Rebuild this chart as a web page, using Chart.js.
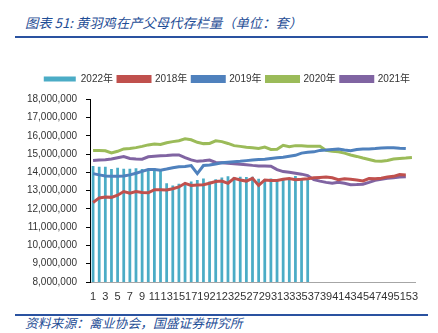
<!DOCTYPE html>
<html>
<head>
<meta charset="utf-8">
<script src="https://cdn.jsdelivr.net/npm/chart.js@4.4.1/dist/chart.umd.min.js"></script>
<style>
  html, body { margin: 0; padding: 0; background: #ffffff; }
  #wrap { position: relative; width: 438px; height: 333px; overflow: hidden; background: #fff; }
  #title { position: absolute; left: 25px; top: 13px; font-family: "Noto Sans CJK SC", sans-serif; font-style: italic; font-size: 13.3px; color: #1F4E96; white-space: nowrap; }
  #rule1 { position: absolute; left: 15px; top: 36px; width: 413px; height: 2px; background: #2A52A0; }
  #rule2 { position: absolute; left: 15px; top: 314px; width: 413px; height: 2px; background: #2A52A0; }
  #source { position: absolute; left: 25px; top: 313px; font-family: "Noto Sans CJK SC", sans-serif; font-style: italic; font-size: 12.8px; color: #1F4E96; white-space: nowrap; }
  #cv { position: absolute; left: 0; top: 53px; }
</style>
</head>
<body>
<div id="wrap">
  <div id="title">图表 51:  黄羽鸡在产父母代存栏量（单位：套）</div>
  <div id="rule1"></div>
  <canvas id="cv" width="438" height="257"></canvas>
  <div id="rule2"></div>
  <div id="source">资料来源：禽业协会，国盛证券研究所</div>
</div>
<script>
const weeks = ["1","2","3","4","5","6","7","8","9","10","11","12","13","14","15","16","17","18","19","20","21","22","23","24","25","26","27","28","29","30","31","32","33","34","35","36","37","38","39","40","41","42","43","44","45","46","47","48","49","50","51","52","53"];

const y2022 = [14340000,14300000,14300000,14180000,14250000,14200000,14200000,14220000,14180000,14150000,14220000,14080000,13400000,13280000,13380000,13400000,13500000,13580000,13660000,13500000,13620000,13720000,13780000,13740000,13760000,13740000,13760000,13650000,13630000,13660000,13580000,13620000,13660000,13800000,13660000,13640000];

const y2018 = [12350000,12600000,12650000,12630000,12750000,12950000,12860000,12950000,12900000,12880000,13050000,13050000,13030000,13100000,13200000,13400000,13280000,13310000,13320000,13400000,13500000,13520000,13400000,13670000,13580000,13520000,13670000,13280000,13580000,13550000,13550000,13620000,13660000,13600000,13620000,13650000,13700000,13720000,13740000,13700000,13600000,13650000,13620000,13580000,13530000,13660000,13650000,13680000,13750000,13780000,13880000,13860000];

const y2019 = [13930000,13860000,13800000,13780000,13780000,13800000,13860000,13950000,14050000,14150000,14150000,14120000,14180000,14250000,14300000,14320000,14370000,13930000,14370000,14400000,14460000,14520000,14550000,14580000,14600000,14640000,14680000,14700000,14720000,14760000,14800000,14830000,14880000,14930000,15050000,15100000,15120000,15200000,15220000,15250000,15270000,15220000,15180000,15250000,15280000,15280000,15300000,15330000,15350000,15350000,15320000,15300000];

const y2020 = [15190000,15200000,15180000,15060000,15150000,15280000,15300000,15350000,15420000,15500000,15550000,15520000,15620000,15680000,15730000,15830000,15780000,15640000,15570000,15580000,15720000,15680000,15580000,15460000,15420000,15370000,15350000,15300000,15380000,15250000,15260000,15480000,15400000,15460000,15450000,15430000,15430000,15430000,15200000,15150000,15120000,15050000,14950000,14870000,14780000,14700000,14620000,14600000,14650000,14730000,14760000,14780000,14810000];

const y2021 = [14650000,14670000,14690000,14730000,14800000,14860000,14760000,14730000,14720000,14850000,14880000,14900000,14920000,14950000,14950000,14800000,14680000,14600000,14630000,14670000,14540000,14520000,14500000,14470000,14440000,14420000,14380000,14350000,14350000,14330000,14150000,14040000,14000000,13950000,13900000,13820000,13600000,13520000,13450000,13400000,13460000,13400000,13320000,13330000,13350000,13450000,13560000,13620000,13670000,13700000,13740000,13760000];

const yTicks = [8000000,9000000,10000000,11000000,12000000,13000000,14000000,15000000,16000000,17000000,18000000];

function lineDs(label, data, color) {
  return { type: 'line', label: label, data: data, borderColor: color, backgroundColor: color,
           borderWidth: 3, pointRadius: 0, pointHoverRadius: 0, tension: 0, fill: false, order: 1 };
}

new Chart(document.getElementById('cv'), {
  data: {
    labels: weeks,
    datasets: [
      { type: 'bar', label: '2022年', data: y2022, backgroundColor: '#4BACC6', borderWidth: 0,
        barPercentage: 0.45, categoryPercentage: 1.0, order: 5 },
      lineDs('2018年', y2018, '#C0504D'),
      lineDs('2019年', y2019, '#4F81BD'),
      lineDs('2020年', y2020, '#9BBB59'),
      lineDs('2021年', y2021, '#8064A2')
    ]
  },
  options: {
    responsive: false,
    animation: false,
    events: [],
    layout: { padding: { top: 16, right: 23, left: 0, bottom: 0 } },
    plugins: {
      tooltip: { enabled: false },
      subtitle: {
        display: true, text: ' ', position: 'top', weight: 500,
        font: { size: 1 }, padding: { top: 0, bottom: 4 }
      },
      legend: {
        display: true,
        position: 'top',
        align: 'end',
        labels: {
          boxWidth: 32, boxHeight: 5, padding: 5,
          color: '#333333',
          font: { family: '"Liberation Sans", "Noto Sans CJK SC", sans-serif', size: 10 },
          sort: (a, b) => a.datasetIndex - b.datasetIndex
        }
      }
    },
    scales: {
      x: {
        type: 'category',
        offset: true,
        grid: { display: true, drawOnChartArea: false, drawTicks: false, color: '#A6A6A6' },
        border: { display: true, color: '#A6A6A6', width: 1 },
        ticks: {
          autoSkip: false, maxRotation: 0, minRotation: 0, padding: 8,
          color: '#333333',
          font: { family: '"Liberation Sans", sans-serif', size: 11 },
          callback: function (val, idx) { return idx % 2 === 0 ? this.getLabelForValue(val) : ''; }
        },
        afterFit: (s) => { s.height = 28; }
      },
      y: {
        min: 8000000, max: 18000000,
        afterBuildTicks: (s) => { s.ticks = yTicks.map(v => ({ value: v })); },
        grid: { display: true, drawOnChartArea: false, drawTicks: true, tickLength: 4, color: '#000000' },
        border: { display: true, color: '#000000', width: 1 },
        ticks: {
          padding: 9, color: '#333333',
          font: { family: '"Liberation Sans", sans-serif', size: 10 },
          callback: (v) => v.toLocaleString('en-US')
        },
        afterFit: (s) => { s.width = 90; }
      }
    }
  }
});
</script>
</body>
</html>
